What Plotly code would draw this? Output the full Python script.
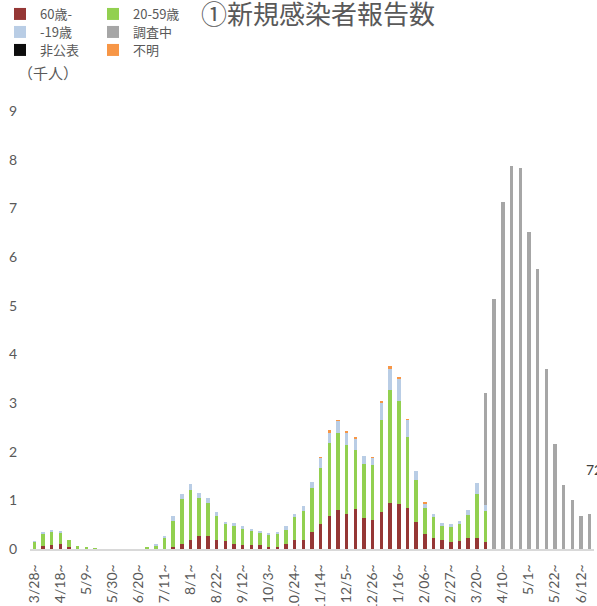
import plotly.graph_objects as go
import pandas as pd

# weekly buckets starting Saturday 3/28
weeks = [d.strftime("%Y-%m-%d") for d in pd.date_range("2020-03-28", periods=65, freq="7D")]

tick_text = ["3/28~", "4/18~", "5/9~", "5/30~", "6/20~", "7/11~", "8/1~", "8/22~",
             "9/12~", "10/3~", "10/24~", "11/14~", "12/5~", "12/26~", "1/16~", "2/06~",
             "2/27~", "3/20~", "4/10~", "5/1~", "5/22~", "6/12~"]

# values in thousands of people
age60 = [0.00, 0.06, 0.08, 0.11, 0.05, 0.00, 0.00, 0.00, 0.00, 0.00,
         0.00, 0.00, 0.00, 0.00, 0.01, 0.01, 0.04, 0.11, 0.19, 0.27,
         0.27, 0.19, 0.16, 0.11, 0.09, 0.09, 0.08, 0.05, 0.04, 0.11,
         0.19, 0.19, 0.35, 0.52, 0.67, 0.80, 0.71, 0.83, 0.64, 0.60,
         0.77, 0.95, 0.93, 0.85, 0.56, 0.30, 0.23, 0.19, 0.15, 0.17,
         0.23, 0.23, 0.15, 0, 0, 0, 0, 0, 0, 0,
         0, 0, 0, 0, 0]
age20_59 = [0.15, 0.25, 0.27, 0.22, 0.14, 0.06, 0.04, 0.02, 0.00, 0.00,
            0.00, 0.00, 0.00, 0.04, 0.07, 0.22, 0.53, 0.91, 1.03, 0.77,
            0.68, 0.49, 0.36, 0.36, 0.34, 0.28, 0.26, 0.24, 0.27, 0.29,
            0.47, 0.59, 0.91, 1.15, 1.51, 1.59, 1.42, 1.21, 1.11, 1.13,
            1.88, 2.32, 2.12, 1.46, 0.85, 0.54, 0.42, 0.28, 0.31, 0.34,
            0.47, 0.89, 0.64, 0, 0, 0, 0, 0, 0, 0,
            0, 0, 0, 0, 0]
age19 = [0.01, 0.03, 0.02, 0.035, 0.00, 0.00, 0.00, 0.00, 0.00, 0.00,
         0.00, 0.00, 0.00, 0.00, 0.01, 0.035, 0.10, 0.12, 0.12, 0.11,
         0.10, 0.08, 0.04, 0.06, 0.04, 0.04, 0.03, 0.04, 0.04, 0.07,
         0.06, 0.11, 0.12, 0.21, 0.21, 0.25, 0.27, 0.23, 0.17, 0.14,
         0.35, 0.43, 0.45, 0.35, 0.20, 0.10, 0.07, 0.06, 0.05, 0.07,
         0.10, 0.23, 0.12, 0, 0, 0, 0, 0, 0, 0,
         0, 0, 0, 0, 0]
undisclosed = [0] * 65
unknown = [0, 0, 0, 0, 0, 0, 0, 0, 0, 0,
           0, 0, 0, 0, 0, 0, 0, 0, 0, 0,
           0, 0, 0, 0, 0, 0, 0, 0, 0, 0,
           0, 0, 0, 0.01, 0.05, 0.01, 0.02, 0.02, 0, 0.01,
           0.03, 0.055, 0.02, 0.01, 0, 0.01, 0, 0, 0, 0,
           0, 0, 0, 0, 0, 0, 0, 0, 0, 0,
           0, 0, 0, 0, 0]
pending = [0] * 52 + [2.30, 5.13, 7.12, 7.88, 7.83, 6.51, 5.75, 3.70, 2.15, 1.32,
                      1.00, 0.67, 0.72]

GREY = "#595959"
FONT = "Lato, Noto Sans CJK JP, sans-serif"
JP = "Noto Sans CJK JP"

# name, values, colour, legend row (one horizontal legend per row, two columns)
series = [
    ("60歳-", age60, "#953735", "legend"),
    ("20-59歳", age20_59, "#92D050", "legend"),
    ("-19歳", age19, "#B9CDE5", "legend2"),
    ("調査中", pending, "#A6A6A6", "legend2"),
    ("非公表", undisclosed, "#0D0D0D", "legend3"),
    ("不明", unknown, "#F79646", "legend3"),
]
# stacking order bottom -> top
stack = ["60歳-", "20-59歳", "-19歳", "非公表", "不明", "調査中"]

fig = go.Figure()
lookup = {s[0]: s for s in series}
legend_rank = {s[0]: i for i, s in enumerate(series)}
for name in stack:
    _, vals, col, lg = lookup[name]
    fig.add_trace(go.Bar(x=weeks, y=vals, name=name, marker_color=col,
                         marker_line_width=0, legend=lg,
                         legendrank=legend_rank[name]))


def row_legend(ypx):
    return dict(orientation="h", xref="container", yref="container",
                x=-3 / 597, y=1 - ypx / 606, xanchor="left", yanchor="middle",
                entrywidth=48, traceorder="normal",
                font=dict(size=13, color=GREY, family=JP),
                bgcolor="rgba(0,0,0,0)")


fig.update_layout(
    width=597, height=606,
    barmode="stack", bargap=0.6,
    plot_bgcolor="white", paper_bgcolor="white",
    margin=dict(l=30, r=3, t=111, b=57, autoexpand=False),
    font=dict(family=FONT, color=GREY, size=14),
    title=dict(text="①新規感染者報告数", x=318 / 597, xref="container", xanchor="center",
               y=1 - 15 / 606, yref="container", yanchor="middle",
               font=dict(size=26, color=GREY, family=JP)),
    legend=row_legend(14),
    legend2=row_legend(32),
    legend3=row_legend(50),
    xaxis=dict(type="category", range=[-0.5, 64.5], tickvals=weeks[::3], ticktext=tick_text,
               tickangle=-90, showgrid=False, showline=True, linecolor="#D9D9D9", linewidth=1.5,
               ticks="", automargin=False, ticklabelstandoff=8,
               tickfont=dict(size=14, color=GREY)),
    yaxis=dict(range=[0, 9], dtick=1, showgrid=False, zeroline=False, showline=False,
               automargin=False, ticklabelstandoff=12, tickfont=dict(size=14, color=GREY)),
    annotations=[
        dict(text="（千人）", xref="paper", yref="paper", x=-0.025, y=(549 - 73) / 437.3,
             xanchor="left", yanchor="middle", showarrow=False,
             font=dict(size=15, color=GREY, family=JP)),
        dict(text="72", xref="paper", yref="paper", x=(584 - 30) / 564, y=(549 - 470) / 437.3,
             xanchor="left", yanchor="middle", showarrow=False,
             font=dict(size=14, color="#404040")),
    ],
)

fig.write_html("out.html", config={"displayModeBar": False},
               post_script="document.body.style.margin = '0';")
